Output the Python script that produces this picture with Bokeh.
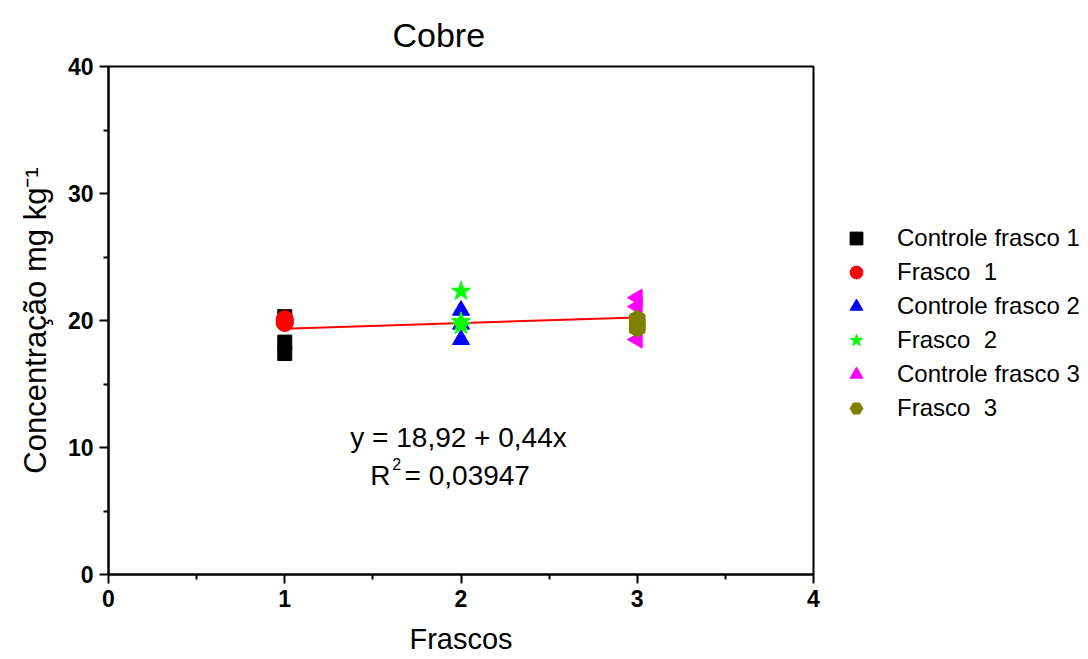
from bokeh.plotting import figure
from bokeh.models import Range1d, Label, Legend, LegendItem, FixedTicker
from bokeh.embed import file_html
from bokeh.resources import INLINE
import math

# ---- data ----
ctrl1_x = [1, 1, 1]
ctrl1_y = [20.3, 18.3, 17.4]
fr1_x = [1, 1, 1]
fr1_y = [19.8, 19.9, 20.1]
ctrl2_x = [2, 2, 2]
ctrl2_y = [20.8, 19.7, 18.5]
fr2_x = [2, 2, 2]
fr2_y = [22.3, 19.9, 19.6]
ctrl3_x = [3, 3, 3]
ctrl3_y = [21.8, 21.1, 18.5]
fr3_x = [3, 3, 3]
fr3_y = [20.1, 19.6, 19.4]
fit_intercept = 18.92
fit_slope = 0.44
fit_r2 = "0,03947"
fit_x = [1, 3]
fit_y = [fit_intercept + fit_slope * v for v in fit_x]

legend_labels = ["Controle frasco 1", "Frasco  1", "Controle frasco 2",
                 "Frasco  2", "Controle frasco 3", "Frasco  3"]

FONT = "Liberation Sans"

p = figure(output_backend="svg", toolbar_location=None,
           x_range=Range1d(0, 4), y_range=Range1d(0, 40),
           frame_width=705, frame_height=508,
           min_border_left=108, min_border_right=275,
           min_border_top=66, min_border_bottom=85,
           title="Cobre")
p.grid.visible = False
p.outline_line_color = "black"
p.outline_line_width = 2
p.background_fill_color = "white"
p.border_fill_color = "white"

p.title.text_font = FONT
p.title.text_font_size = "34px"
p.title.text_font_style = "normal"
p.title.text_color = "black"
p.title.align = "left"
p.title.offset = 284
p.title.standoff = 26

for ax in (p.xaxis[0], p.yaxis[0]):
    ax.axis_line_width = 2
    ax.axis_line_color = "black"
    ax.major_tick_line_width = 2
    ax.minor_tick_line_width = 2
    ax.major_tick_out = 9
    ax.major_tick_in = 0
    ax.minor_tick_out = 5
    ax.minor_tick_in = 0
    ax.major_label_text_font = FONT
    ax.major_label_text_font_style = "bold"
    ax.major_label_text_font_size = "23px"
    ax.major_label_text_color = "black"
    ax.major_label_standoff = 6
    ax.axis_label_text_font = FONT
    ax.axis_label_text_font_style = "normal"
    ax.axis_label_text_color = "black"

p.xaxis.ticker = FixedTicker(ticks=[0, 1, 2, 3, 4], minor_ticks=[0.5, 1.5, 2.5, 3.5])
p.yaxis.ticker = FixedTicker(ticks=[0, 10, 20, 30, 40], minor_ticks=[5, 15, 25, 35])

p.xaxis.axis_label = "Frascos"
p.xaxis.axis_label_text_font_size = "29px"
p.xaxis.axis_label_standoff = 13
p.yaxis.axis_label = "Concentração mg kg⁻¹"
p.yaxis.axis_label_text_font_size = "31px"
p.yaxis.axis_label_standoff = 12

# regression line
p.line(fit_x, fit_y, line_color="red", line_width=2)

r1 = p.scatter(ctrl1_x, ctrl1_y, marker="square", size=14, fill_color="black", line_color="black")
r2 = p.scatter(fr1_x, fr1_y, marker="circle", size=17, fill_color="red", line_color="red")
r3 = p.scatter(ctrl2_x, ctrl2_y, marker="triangle", size=17, fill_color="blue", line_color="blue")
r4 = p.scatter(fr2_x, fr2_y, marker="star", size=20, fill_color="#00FF00", line_color="#00FF00")
r5 = p.scatter(ctrl3_x, ctrl3_y, marker="triangle", size=17, angle=math.pi / 2,
               fill_color="#FF00FF", line_color="#FF00FF")
r6 = p.scatter(fr3_x, fr3_y, marker="hex", size=18, angle=math.pi / 6,
               fill_color="#808000", line_color="#808000")

legend = Legend(items=[LegendItem(label=l, renderers=[r]) for l, r in
                       zip(legend_labels, [r1, r2, r3, r4, r5, r6])],
                location=(27, 150), border_line_color=None,
                background_fill_alpha=0, padding=0, margin=0,
                spacing=2, glyph_width=32, glyph_height=32, label_height=32,
                label_standoff=25, label_text_font=FONT,
                label_text_font_size="24px", label_text_color="black")
p.add_layout(legend, "right")

# equation
p.add_layout(Label(x=1.986, y=10.75, text="y = 18,92 + 0,44x", text_font=FONT,
                   text_font_size="28px", text_align="center", text_baseline="middle",
                   text_color="black"))
p.add_layout(Label(x=1.60, y=7.8, text="R", text_font=FONT, text_font_size="28px",
                   text_align="right", text_baseline="middle", text_color="black"))
p.add_layout(Label(x=1.61, y=8.7, text="2", text_font=FONT, text_font_size="16px",
                   text_align="left", text_baseline="middle", text_color="black"))
p.add_layout(Label(x=1.68, y=7.8, text="= " + fit_r2, text_font=FONT, text_font_size="28px",
                   text_align="left", text_baseline="middle", text_color="black"))

open("out.html", "w").write(file_html(p, INLINE))
